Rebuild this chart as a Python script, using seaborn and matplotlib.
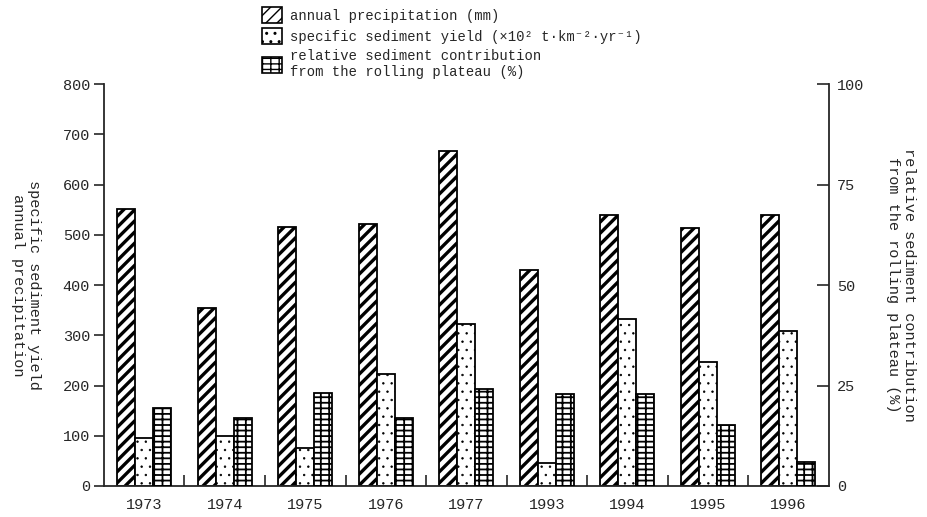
import numpy as np
import pandas as pd
import matplotlib
matplotlib.use('Agg')
import matplotlib.pyplot as plt
from matplotlib.patches import Patch
import seaborn as sns

# values
years = ['1973', '1974', '1975', '1976', '1977', '1993', '1994', '1995', '1996']
precip = [551, 355, 516, 521, 668, 431, 540, 513, 540]          # mm
sed_yield = [95, 100, 75, 223, 322, 46, 332, 247, 308]          # x10^2 t km-2 yr-1
rel_contrib = [19.3, 16.8, 23.1, 16.8, 24.1, 22.8, 22.8, 15.3, 6.0]  # %

series = ['annual precipitation (mm)',
          'specific sediment yield (×10² t·km⁻²·yr⁻¹)',
          'relative sediment contribution\nfrom the rolling plateau (%)']
hatches = ['///', '..', '---||']

df = pd.DataFrame({
    'year': years * 3,
    'series': [series[0]] * 9 + [series[1]] * 9 + [series[2]] * 9,
    'value': precip + sed_yield + rel_contrib,
})

sns.set_theme(style='ticks')
plt.rcParams['font.family'] = ['Liberation Mono', 'DejaVu Sans Mono']
plt.rcParams['hatch.linewidth'] = 1.0
plt.rcParams['axes.linewidth'] = 1.3

fig = plt.figure(figsize=(9.28, 5.17), dpi=100)
ax = fig.add_axes([0.112, 0.060, 0.781, 0.777])
ax2 = ax.twinx()

pal = {s: 'white' for s in series}
sns.barplot(data=df[df.series != series[2]], x='year', y='value', hue='series',
            hue_order=series, order=years, palette=pal, width=0.67, dodge=True,
            edgecolor='black', linewidth=1.3, saturation=1, legend=False, ax=ax)
sns.barplot(data=df[df.series == series[2]], x='year', y='value', hue='series',
            hue_order=series, order=years, palette=pal, width=0.67, dodge=True,
            edgecolor='black', linewidth=1.3, saturation=1, legend=False, ax=ax2)

# hatching
for cont, h, lw in zip(ax.containers, hatches[:2], [2.4, 0.5]):
    for p in cont:
        p.set_hatch(h)
        if hasattr(p, 'set_hatch_linewidth'):
            p.set_hatch_linewidth(lw)
for cont in ax2.containers:
    for p in cont:
        p.set_hatch(hatches[2])
        if hasattr(p, 'set_hatch_linewidth'):
            p.set_hatch_linewidth(1.3)

ax.set_xlim(-0.5, 8.5)
ax.set_ylim(0, 800)
ax2.set_ylim(0, 100)
ax.set_yticks(range(0, 801, 100))
ax2.set_yticks([0, 25, 50, 75, 100])

for a in (ax, ax2):
    a.spines['top'].set_visible(False)
ax.spines['right'].set_visible(False)
ax2.spines['left'].set_visible(False)
ax2.spines['bottom'].set_visible(False)

ax.tick_params(axis='y', direction='out', length=7, width=1.2, labelsize=11, pad=3)
ax2.tick_params(axis='y', direction='in', length=9, width=1.2, labelsize=11, pad=6)
ax.tick_params(axis='x', length=0, labelsize=11, pad=9)
ax.set_xticks(np.arange(0.5, 8.5, 1), minor=True)
ax.tick_params(axis='x', which='minor', direction='in', length=8, width=1.2)

ax.set_xlabel('')
ax.set_ylabel('specific sediment yield\nannual precipitation', fontsize=11,
              rotation=-90, va='center')
ax.yaxis.set_label_coords(-0.108, 0.5)
ax2.set_ylabel('relative sediment contribution\nfrom the rolling plateau (%)',
               fontsize=11, rotation=-90, va='center')
ax2.yaxis.set_label_coords(1.1, 0.5)

handles = [Patch(facecolor='white', edgecolor='black', hatch=h, linewidth=1.2)
           for h in hatches]
fig.legend(handles, series, loc='upper left', bbox_to_anchor=(0.272, 1.005),
           frameon=False, fontsize=10, handlelength=1.4, handleheight=1.4,
           handletextpad=0.6, labelspacing=0.35, borderpad=0.2)

fig.savefig('out.png', dpi=100)
